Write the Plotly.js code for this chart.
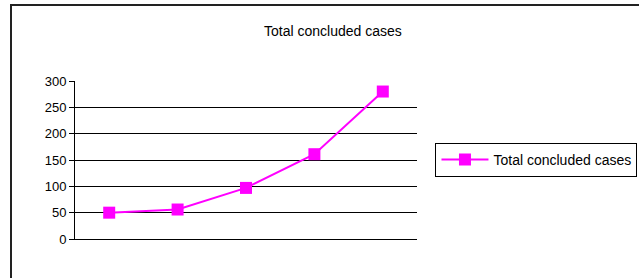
<!DOCTYPE html>
<html>
<head>
<meta charset="utf-8">
<script src="https://cdn.plot.ly/plotly-3.0.1.min.js"></script>
<style>
  html, body { margin: 0; padding: 0; background: #fff; }
  #wrap { position: relative; width: 639px; height: 278px; overflow: hidden; }
  #chart { width: 639px; height: 278px; }
  #frame { position: absolute; left: 10px; top: 4px; width: 700px; height: 400px;
           border: 2px solid #222; box-sizing: border-box; pointer-events: none; }
</style>
</head>
<body>
<div id="wrap">
  <div id="chart"></div>
  <div id="frame"></div>
</div>
<script>
const categories = ["1", "2", "3", "4", "5"];
const seriesName = "Total concluded cases";
const values = [50, 56, 97, 161, 280];
const yTicks = [0, 50, 100, 150, 200, 250, 300];
const chartTitle = "Total concluded cases";

const trace = {
  type: "scatter",
  mode: "lines+markers",
  x: categories,
  y: values,
  name: seriesName,
  line: { color: "#FF00FF", width: 2 },
  marker: { symbol: "square", size: 12, color: "#FF00FF" }
};

const layout = {
  width: 639, height: 278,
  margin: { l: 75, r: 221.5, t: 81, b: 38.7, pad: 0, autoexpand: false },
  paper_bgcolor: "#fff",
  plot_bgcolor: "#fff",
  font: { family: "Arial, 'Liberation Sans', sans-serif", size: 14, color: "#000" },
  title: {
    text: chartTitle,
    font: { size: 14, color: "#000" },
    x: 0.521, xanchor: "center",
    y: 1 - 31 / 278, yanchor: "middle"
  },
  xaxis: {
    type: "category",
    range: [-0.5, 4.5],
    showticklabels: false,
    ticks: "",
    showgrid: false,
    zeroline: false,
    showline: true, linecolor: "#000", linewidth: 1,
    fixedrange: true
  },
  yaxis: {
    range: [0, 300],
    tickvals: yTicks,
    ticks: "outside", ticklen: 5, tickcolor: "#000", tickwidth: 1,
    showgrid: true, gridcolor: "#000", gridwidth: 1,
    zeroline: false,
    showline: true, linecolor: "#000", linewidth: 1,
    tickfont: { size: 13, color: "#000" },
    fixedrange: true
  },
  showlegend: true,
  legend: {
    x: (436 - 75) / 342.5, xanchor: "left",
    y: (239.3 - 160) / 158.3, yanchor: "middle",
    bordercolor: "#000", borderwidth: 1,
    bgcolor: "#fff",
    font: { size: 14, color: "#000" },
    itemwidth: 47,
    tracegroupgap: 0
  }
};

Plotly.newPlot("chart", [trace], layout, { displayModeBar: false, staticPlot: true });
</script>
</body>
</html>
